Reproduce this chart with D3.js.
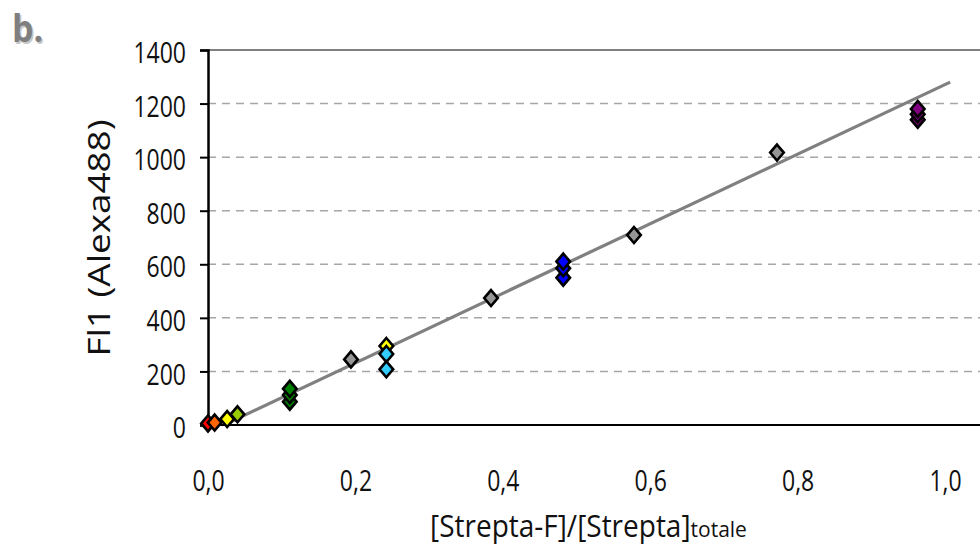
<!DOCTYPE html>
<html><head><meta charset="utf-8">
<script src="https://cdn.jsdelivr.net/npm/d3@7"></script>
<style>body{margin:0;background:#fff}svg{display:block}</style>
</head><body>
<svg id="c" width="980" height="546"></svg>
<script>
// ---- data ----
const xTicks = [0, 0.2, 0.4, 0.6, 0.8, 1.0];
const yTicks = [0, 200, 400, 600, 800, 1000, 1200, 1400];

const redX = [0], redY = [6];
const orangeX = [0.009], orangeY = [9];
const yellowLowX = [0.026], yellowLowY = [22];
const limeX = [0.04], limeY = [40];
const greenX = [0.111, 0.111, 0.111], greenY = [87, 112, 135];
const grayX = [0.194, 0.384, 0.578, 0.772], grayY = [245, 474, 709, 1017];
const yellowX = [0.242], yellowY = [295];
const cyanX = [0.242, 0.242], cyanY = [265, 208];
const blueX = [0.482, 0.482, 0.482], blueY = [550, 585, 610];
const purpleX = [0.963, 0.963, 0.963], purpleY = [1140, 1160, 1180];
const fitX = [0, 1.007], fitY = [-28, 1280];

const series = [
  {x: redX, y: redY, color: "#ff0000"},
  {x: orangeX, y: orangeY, color: "#ff6600"},
  {x: yellowLowX, y: yellowLowY, color: "#ffff00"},
  {x: limeX, y: limeY, color: "#99cc00"},
  {x: greenX, y: greenY, color: "#008000"},
  {x: grayX, y: grayY, color: "#969696"},
  {x: yellowX, y: yellowY, color: "#ffff00"},
  {x: cyanX, y: cyanY, color: "#33ccff"},
  {x: blueX, y: blueY, color: "#0000ff"},
  {x: purpleX, y: purpleY, color: "#800080"}
];

// ---- layout ----
const L = 208, R = 980, T = 50, B = 425;
const x = d3.scaleLinear().domain([0, 1]).range([L, 945]);
const y = d3.scaleLinear().domain([0, 1400]).range([B, T]);
const SY = 1.3; // vertical stretch of the tick text in the reference
const FONT = "'Open Sans', sans-serif";

const svg = d3.select("#c");

// panel letter
const b = svg.append("g").attr("transform", `translate(12,42) scale(1,1.12)`);
b.append("text").attr("x", 1.5).attr("y", 1.5).text("b.")
  .attr("font-family", FONT).attr("font-weight", 700).attr("font-size", 34).attr("fill", "#c8c8c8");
b.append("text").text("b.")
  .attr("font-family", FONT).attr("font-weight", 700).attr("font-size", 34).attr("fill", "#7f7f7f");

// gridlines
svg.append("g").selectAll("line").data(yTicks.filter(d => d > 0 && d < 1400)).join("line")
  .attr("x1", L).attr("x2", R).attr("y1", d => y(d)).attr("y2", d => y(d))
  .attr("stroke", "#a6a6a6").attr("stroke-width", 1.5).attr("stroke-dasharray", "8,6");
// top border
svg.append("line").attr("x1", L).attr("x2", R).attr("y1", y(1400)).attr("y2", y(1400))
  .attr("stroke", "#808080").attr("stroke-width", 2);

// clip for fit line
svg.append("clipPath").attr("id", "pc").append("rect")
  .attr("x", L).attr("y", T).attr("width", R - L).attr("height", B - T);

// fit line
const line = d3.line().x(d => x(d[0])).y(d => y(d[1]));
svg.append("path").datum(d3.zip(fitX, fitY)).attr("d", line)
  .attr("clip-path", "url(#pc)")
  .attr("fill", "none").attr("stroke", "#808080").attr("stroke-width", 3.2);

// y axis
const yAxis = d3.axisLeft(y).tickValues(yTicks).tickSize(8).tickPadding(14).tickFormat(d3.format("d"));
const gy = svg.append("g").attr("transform", `translate(${L},0)`).call(yAxis);
gy.select(".domain").attr("stroke", "#000").attr("stroke-width", 2.5);
gy.selectAll(".tick line").attr("stroke", "#000").attr("stroke-width", 2);
gy.selectAll(".tick text").attr("font-family", FONT).attr("font-size", 23).attr("fill", "#111")
  .attr("transform", `translate(0,3) scale(1,${SY})`);

// x axis line
svg.append("line").attr("x1", L).attr("x2", R).attr("y1", B).attr("y2", B)
  .attr("stroke", "#000").attr("stroke-width", 2);

// x tick labels
const xAxis = d3.axisBottom(x).tickValues(xTicks).tickSize(0).tickPadding(0)
  .tickFormat(d => d3.format(".1f")(d).replace(".", ","));
const gx = svg.append("g").attr("transform", `translate(0,${B})`).call(xAxis);
gx.select(".domain").remove();
gx.selectAll(".tick text").attr("font-family", FONT).attr("font-size", 23).attr("fill", "#111")
  .attr("dy", null).attr("y", 0)
  .attr("transform", `translate(0,66) scale(1,${SY})`);

// markers
const diamond = "M0,-8L6.8,0L0,8L-6.8,0Z";
const mg = svg.append("g");
series.forEach(s => {
  mg.append("g").selectAll("path").data(d3.zip(s.x, s.y)).join("path")
    .attr("d", diamond)
    .attr("transform", d => `translate(${x(d[0])},${y(d[1])})`)
    .attr("fill", s.color).attr("stroke", "#000").attr("stroke-width", 2.6)
    .attr("stroke-linejoin", "miter");
});

// x title
const xt = svg.append("text").attr("font-family", FONT).attr("font-size", 28).attr("fill", "#111")
  .attr("transform", `translate(430,537) scale(1,1.08)`);
xt.append("tspan").text("[Strepta-F]/[Strepta]");
xt.append("tspan").attr("font-size", 21).text("totale");

// y title
svg.append("text").attr("font-family", FONT).attr("font-size", 31).attr("fill", "#111")
  .attr("text-anchor", "middle")
  .attr("transform", `translate(110,238) rotate(-90) scale(1.19,1)`)
  .text("Fl1 (Alexa488)");
</script>
</body></html>
